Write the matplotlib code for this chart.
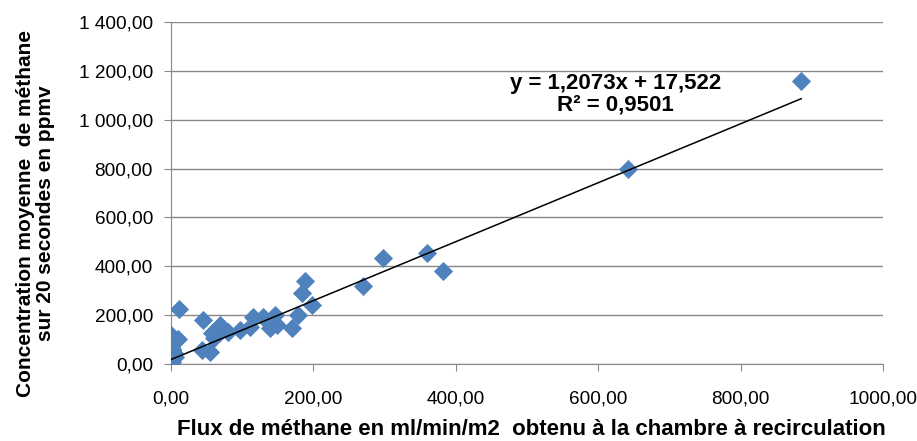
import numpy as np
import matplotlib.pyplot as plt
from matplotlib.ticker import FuncFormatter

plt.rcParams['font.family'] = ['Liberation Sans', 'DejaVu Sans']

# flux (x) et concentration (y)
flux = [885, 642, 360, 382, 298, 270, 188, 184, 198, 178, 170, 149, 146, 139,
        129, 115, 111, 97, 80, 72, 69, 60, 58, 55, 45, 44, 11, 10,
        0, 1, 0, 2, 1, 3, 0, 2, 4, 1, 6]
conc = [1158, 798, 454, 381, 434, 319, 340, 291, 241, 200, 147, 160, 200, 147,
        192, 192, 151, 139, 131, 139, 160, 106, 127, 49, 180, 57, 225, 100,
        120, 95, 70, 55, 37, 25, 16, 8, 45, 62, 30]

pente = 1.2073
origine = 17.522

fig = plt.figure(figsize=(9.17, 4.41), dpi=100)
ax = fig.add_axes([0.1865, 0.175, 0.7765, 0.775])

ax.scatter(flux, conc, marker='D', s=95, color='#4F81BD', zorder=3, linewidths=0)
xl = np.array([min(flux), max(flux)])
ax.plot(xl, pente * xl + origine, color='black', linewidth=1.1, zorder=4)

ax.set_xlim(0, 1000)
ax.set_ylim(0, 1400)
ax.set_xticks(np.arange(0, 1001, 200))
ax.set_yticks(np.arange(0, 1401, 200))


def fmt_y(v, pos):
    s = f"{v:,.2f}".replace(',', ' ').replace('.', ',')
    return s


def fmt_x(v, pos):
    return f"{v:.2f}".replace('.', ',')


ax.yaxis.set_major_formatter(FuncFormatter(fmt_y))
ax.xaxis.set_major_formatter(FuncFormatter(fmt_x))
ax.tick_params(labelsize=13.7, length=5, color='#888888', direction='out')
ax.tick_params(axis='x', pad=14)
ax.tick_params(axis='y', pad=8)
ax.grid(axis='y', color='#888888', linewidth=1)
ax.set_axisbelow(True)
for s in ['top', 'right']:
    ax.spines[s].set_visible(False)
for s in ['left', 'bottom']:
    ax.spines[s].set_color('#888888')

ax.text(624, 1150, "y = 1,2073x + 17,522", ha='center', va='center',
        fontsize=16, fontweight='bold')
ax.text(624, 1060, "R² = 0,9501", ha='center', va='center',
        fontsize=16, fontweight='bold')

ax.set_xlabel("Flux de méthane en ml/min/m2  obtenu à la chambre à recirculation",
              fontsize=16, fontweight='bold')
ax.set_ylabel("Concentration moyenne  de méthane\nsur 20 secondes en ppmv",
              fontsize=15, fontweight='bold', linespacing=1.05)
ax.xaxis.set_label_coords(0.506, -0.16)
ax.yaxis.set_label_coords(-0.163, 0.44)

fig.savefig('out.png', dpi=100)
